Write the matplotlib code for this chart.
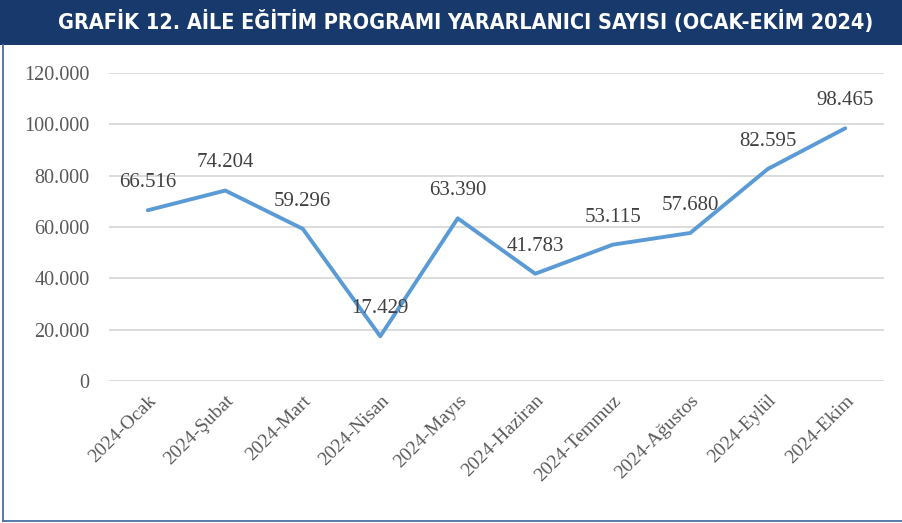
import matplotlib.pyplot as plt
from matplotlib.lines import Line2D
from matplotlib.patches import Rectangle
from matplotlib.ticker import FuncFormatter

# Veriler
aylar = ["2024-Ocak", "2024-Şubat", "2024-Mart", "2024-Nisan", "2024-Mayıs",
         "2024-Haziran", "2024-Temmuz", "2024-Ağustos", "2024-Eylül", "2024-Ekim"]
yararlanici = [66516, 74204, 59296, 17429, 63390, 41783, 53115, 57680, 82595, 98465]
y_ticks = [0, 20000, 40000, 60000, 80000, 100000, 120000]

baslik = "GRAFİK 12. AİLE EĞİTİM PROGRAMI YARARLANICI SAYISI (OCAK-EKİM 2024)"


def nokta_format(v, pos=None):
    return "{:,.0f}".format(v).replace(",", ".")


fig = plt.figure(figsize=(9.02, 5.23), dpi=100)
fig.patch.set_facecolor("white")

# Baslik bandi ve cerceve (sol + alt)
fig.patches.append(Rectangle((0, 1 - 45 / 523), 1, 45 / 523, transform=fig.transFigure,
                             facecolor="#17396b", edgecolor="none", zorder=0))
fig.lines.append(Line2D([3 / 902, 3 / 902], [2 / 523, 1 - 45 / 523], transform=fig.transFigure,
                        color="#4a6fa5", linewidth=1.3))
fig.lines.append(Line2D([3 / 902, 1], [2 / 523, 2 / 523], transform=fig.transFigure,
                        color="#4a6fa5", linewidth=1.3))
fig.text(466 / 902, 1 - 22 / 523, baslik, color="white", fontsize=15.5, fontweight="bold",
         fontstretch="condensed", ha="center", va="center")

ax = fig.add_axes([109 / 902, 1 - 381 / 523, 775 / 902, 308 / 523])
x = list(range(len(aylar)))
ax.plot(x, yararlanici, color="#5b9bd5", linewidth=2.8, solid_capstyle="round", zorder=3)

for xi, v in zip(x, yararlanici):
    ax.annotate(nokta_format(v), (xi, v), xytext=(0, 13), textcoords="offset points",
                ha="center", va="bottom", fontsize=15, family="Liberation Serif",
                color="#404040", zorder=4)

ax.set_xlim(-0.5, len(aylar) - 0.5)
ax.set_ylim(0, 120000)
ax.set_yticks(y_ticks)
ax.yaxis.set_major_formatter(FuncFormatter(nokta_format))
ax.set_xticks(x)
ax.set_xticklabels(aylar, rotation=45, ha="right", rotation_mode="anchor")

ax.grid(axis="y", color="#d9d9d9", linewidth=1.3)
ax.set_axisbelow(True)
for s in ax.spines.values():
    s.set_visible(False)
ax.tick_params(axis="both", length=0, labelcolor="#595959")
ax.tick_params(axis="y", pad=14, labelsize=14.5)
ax.tick_params(axis="x", pad=8, labelsize=14)
for lab in ax.get_xticklabels() + ax.get_yticklabels():
    lab.set_family("Liberation Serif")

fig.savefig("out.png", dpi=100)
